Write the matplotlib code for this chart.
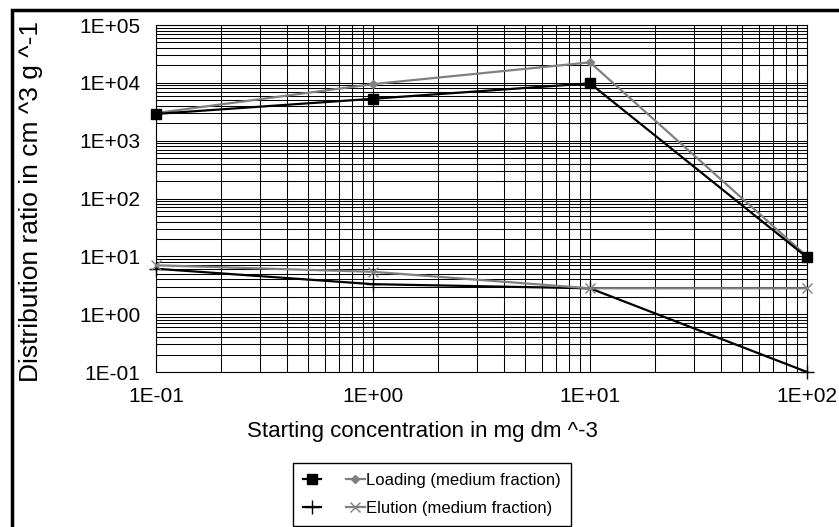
import matplotlib
matplotlib.use("Agg")
import matplotlib.pyplot as plt
from matplotlib.legend_handler import HandlerTuple
from matplotlib.patches import Rectangle

plt.rcParams["font.family"] = ["Liberation Sans", "DejaVu Sans"]

# Starting concentrations (mg dm^-3)
conc = [0.1, 1.0, 10.0, 100.0]

# Distribution ratios (cm^3 g^-1)
loading_black = [2900, 5300, 9800, 9.6]
loading_gray = [3000, 9500, 22600, 10.0]
elution_black = [6.1, 3.3, 2.8, 0.1]
elution_gray = [7.0, 5.4, 2.8, 2.8]

xticks = [0.1, 1, 10, 100]
xtick_labels = ["1E-01", "1E+00", "1E+01", "1E+02"]
yticks = [0.1, 1, 10, 100, 1000, 10000, 100000]
ytick_labels = ["1E-01", "1E+00", "1E+01", "1E+02", "1E+03", "1E+04", "1E+05"]

W, H = 839, 527
fig = plt.figure(figsize=(W / 100, H / 100), dpi=100)
ax = fig.add_axes([156 / W, 1 - 372 / H, (807 - 156) / W, (372 - 25) / H])

ax.set_xscale("log")
ax.set_yscale("log")
ax.set_xlim(0.1, 100)
ax.set_ylim(0.1, 1e5)

ax.grid(True, which="both", color="black", linewidth=0.75)
ax.set_axisbelow(True)

gray = "#808080"
lg, = ax.plot(conc, loading_gray, color=gray, lw=1.6, marker="D", ms=4.5,
              mfc=gray, mec=gray, clip_on=False, zorder=3)
lb, = ax.plot(conc, loading_black, color="black", lw=1.6, marker="s", ms=7,
              clip_on=False, zorder=4)
eb, = ax.plot(conc, elution_black, color="black", lw=1.6, marker="+", ms=10,
              mew=1, clip_on=False, zorder=3)
eg, = ax.plot(conc, elution_gray, color=gray, lw=1.6, marker="x", ms=7,
              mew=1, clip_on=False, zorder=4)

ax.set_xticks(xticks)
ax.set_xticklabels(xtick_labels)
ax.set_yticks(yticks)
ax.set_yticklabels(ytick_labels)
ax.tick_params(axis="both", which="both", length=0, labelsize=15)
ax.tick_params(axis="y", pad=11)
ax.tick_params(axis="x", pad=11)
for sp in ax.spines.values():
    sp.set_color("black")
    sp.set_linewidth(0.8)

fig.text(422 / W, 1 - 431 / H, "Starting concentration in mg dm ^-3",
         ha="center", va="center", fontsize=16)
fig.text(31 / W, 1 - 201 / H, "Distribution ratio in cm ^3 g ^-1",
         ha="center", va="center", rotation=90, fontsize=19)

leg = fig.legend([(lb, lg), (eb, eg)],
                 ["Loading (medium fraction)", "Elution (medium fraction)"],
                 handler_map={tuple: HandlerTuple(ndivide=None, pad=1.5)},
                 loc="upper center", bbox_to_anchor=(432 / W, 1 - 463 / H),
                 borderaxespad=0, fontsize=12, handlelength=3.7,
                 handletextpad=0.1, borderpad=0.6, labelspacing=0.75,
                 fancybox=False, framealpha=1, edgecolor="black")
leg.get_frame().set_linewidth(1)

# outer frame of the chart area
fig.patches.append(Rectangle((11.5 / W, -0.1), 1.2, 1 - 9.5 / H + 0.1,
                             transform=fig.transFigure, fill=False,
                             edgecolor="black", linewidth=2.5))

fig.savefig("out.png", dpi=100)
